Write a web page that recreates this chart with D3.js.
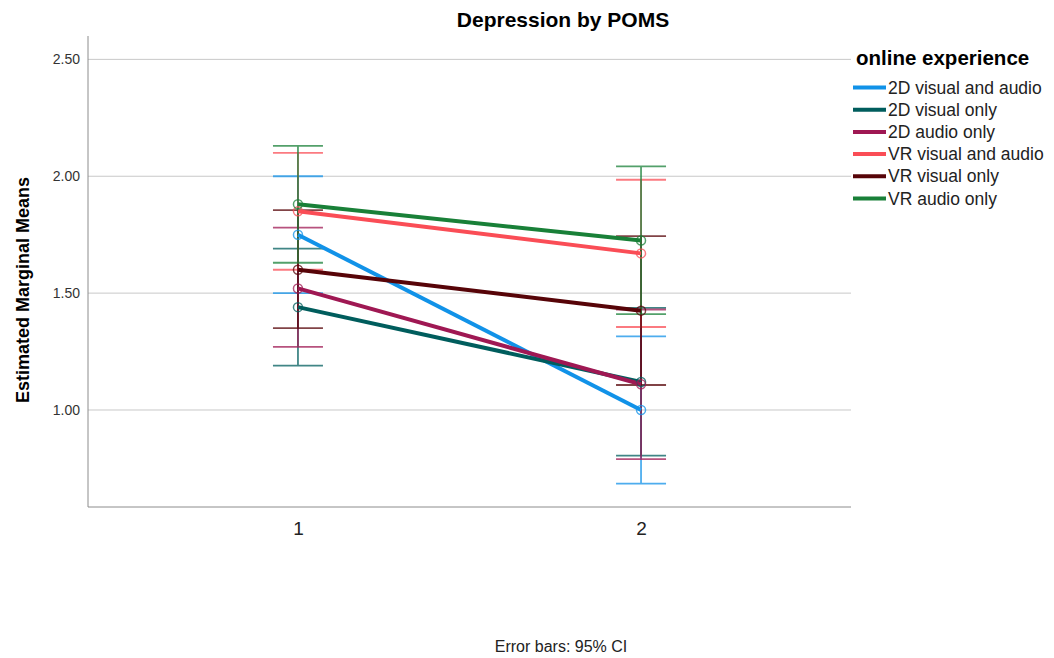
<!DOCTYPE html>
<html lang="en">
<head>
<meta charset="utf-8">
<title>Depression by POMS</title>
<script src="https://d3js.org/d3.v7.min.js"></script>
<style>
  body { margin: 0; background: #fff; }
  svg text { font-family: "Liberation Sans", Arial, sans-serif; fill: #000; }
</style>
</head>
<body>
<div id="chart"></div>
<script>
// data
var times = ["1", "2"];
var groups = ["2D visual and audio", "2D visual only", "2D audio only",
              "VR visual and audio", "VR visual only", "VR audio only"];
var colors = ["#1192e8", "#005d5d", "#9f1853", "#fa4d56", "#570408", "#198038"];
var meanT1 = [1.75, 1.44, 1.52, 1.85, 1.60, 1.88];
var meanT2 = [1.00, 1.12, 1.11, 1.67, 1.425, 1.725];
var lowT1  = [1.50, 1.19, 1.27, 1.60, 1.35, 1.63];
var highT1 = [2.00, 1.69, 1.78, 2.10, 1.855, 2.13];
var lowT2  = [0.685, 0.805, 0.79, 1.355, 1.107, 1.41];
var highT2 = [1.315, 1.437, 1.43, 1.985, 1.744, 2.042];
var yTicks = [1.00, 1.50, 2.00, 2.50];

var W = 1054, H = 658;
var pL = 88, pR = 851, pT = 36, pB = 507;

var svg = d3.select("#chart").append("svg")
  .attr("width", W).attr("height", H);

var x = d3.scalePoint().domain(times).range([pL, pR]).padding(0.612);
var y = d3.scaleLinear().domain([0.585, 2.60]).range([pB, pT]);

// grid
svg.append("g").selectAll("line").data(yTicks).join("line")
  .attr("x1", pL).attr("x2", pR)
  .attr("y1", d => y(d)).attr("y2", d => y(d))
  .attr("stroke", "#c8c8c8").attr("stroke-width", 1);

// y axis
var yAxis = svg.append("g")
  .attr("transform", "translate(" + pL + ",0)")
  .call(d3.axisLeft(y).tickValues(yTicks).tickFormat(d3.format(".2f")).tickSize(0).tickPadding(8));
yAxis.select(".domain").attr("stroke", "#8c8c8c").attr("d", "M0," + pT + "V" + pB);
yAxis.selectAll("text").style("font-size", "14px").style("fill", "#333")
  .style("font-family", "'Liberation Sans', Arial, sans-serif");

// x axis
var xAxis = svg.append("g")
  .attr("transform", "translate(0," + pB + ")")
  .call(d3.axisBottom(x).tickSize(0).tickPadding(15));
xAxis.select(".domain").attr("stroke", "#8c8c8c").attr("d", "M" + pL + ",0H" + pR);
xAxis.selectAll("text").style("font-size", "19px").style("fill", "#222")
  .style("font-family", "'Liberation Sans', Arial, sans-serif");

// rows for each group
var rows = groups.map(function(g, i) {
  return {
    name: g, color: colors[i],
    pts: [
      {t: times[0], m: meanT1[i], lo: lowT1[i], hi: highT1[i]},
      {t: times[1], m: meanT2[i], lo: lowT2[i], hi: highT2[i]}
    ]
  };
});

// error bars
var eb = svg.append("g").selectAll("g").data(rows).join("g")
  .attr("stroke", d => d.color).attr("stroke-width", 1.8).attr("opacity", 0.75);
eb.selectAll("path").data(d => d.pts).join("path")
  .attr("fill", "none")
  .attr("d", function(p) {
    var cx = x(p.t), c = 25;
    return "M" + cx + "," + y(p.lo) + "V" + y(p.hi) +
           "M" + (cx - c) + "," + y(p.hi) + "H" + (cx + c) +
           "M" + (cx - c) + "," + y(p.lo) + "H" + (cx + c);
  });

// lines
var line = d3.line().x(p => x(p.t)).y(p => y(p.m));
svg.append("g").selectAll("path").data(rows).join("path")
  .attr("d", d => line(d.pts))
  .attr("fill", "none").attr("stroke", d => d.color).attr("stroke-width", 4);

// markers
svg.append("g").selectAll("g").data(rows).join("g")
  .attr("stroke", d => d.color)
  .selectAll("circle").data(d => d.pts).join("circle")
  .attr("cx", p => x(p.t)).attr("cy", p => y(p.m)).attr("r", 4.5)
  .attr("fill", "none").attr("stroke-width", 1.5).attr("opacity", 0.75);

// title
svg.append("text").attr("x", 563).attr("y", 27).attr("text-anchor", "middle")
  .style("font-size", "21px").style("font-weight", "bold").text("Depression by POMS");

// y label
svg.append("text")
  .attr("transform", "translate(29," + 290 + ") rotate(-90)")
  .attr("text-anchor", "middle")
  .style("font-size", "18px").style("font-weight", "bold")
  .text("Estimated Marginal Means");

// legend
var lg = svg.append("g").attr("transform", "translate(853,0)");
lg.append("text").attr("x", 3).attr("y", 65)
  .style("font-size", "20.5px").style("font-weight", "bold").text("online experience");
var item = lg.selectAll("g.item").data(rows).join("g").attr("class", "item")
  .attr("transform", (d, i) => "translate(0," + (87.5 + i * 22.2) + ")");
item.append("line").attr("x1", 0).attr("x2", 33)
  .attr("stroke", d => d.color).attr("stroke-width", 4);
item.append("text").attr("x", 35).attr("y", 6)
  .style("font-size", "17.5px").style("fill", "#222").text(d => d.name);

// footnote
svg.append("text").attr("x", 561).attr("y", 652).attr("text-anchor", "middle")
  .style("font-size", "16px").style("fill", "#222").text("Error bars: 95% CI");
</script>
</body>
</html>
